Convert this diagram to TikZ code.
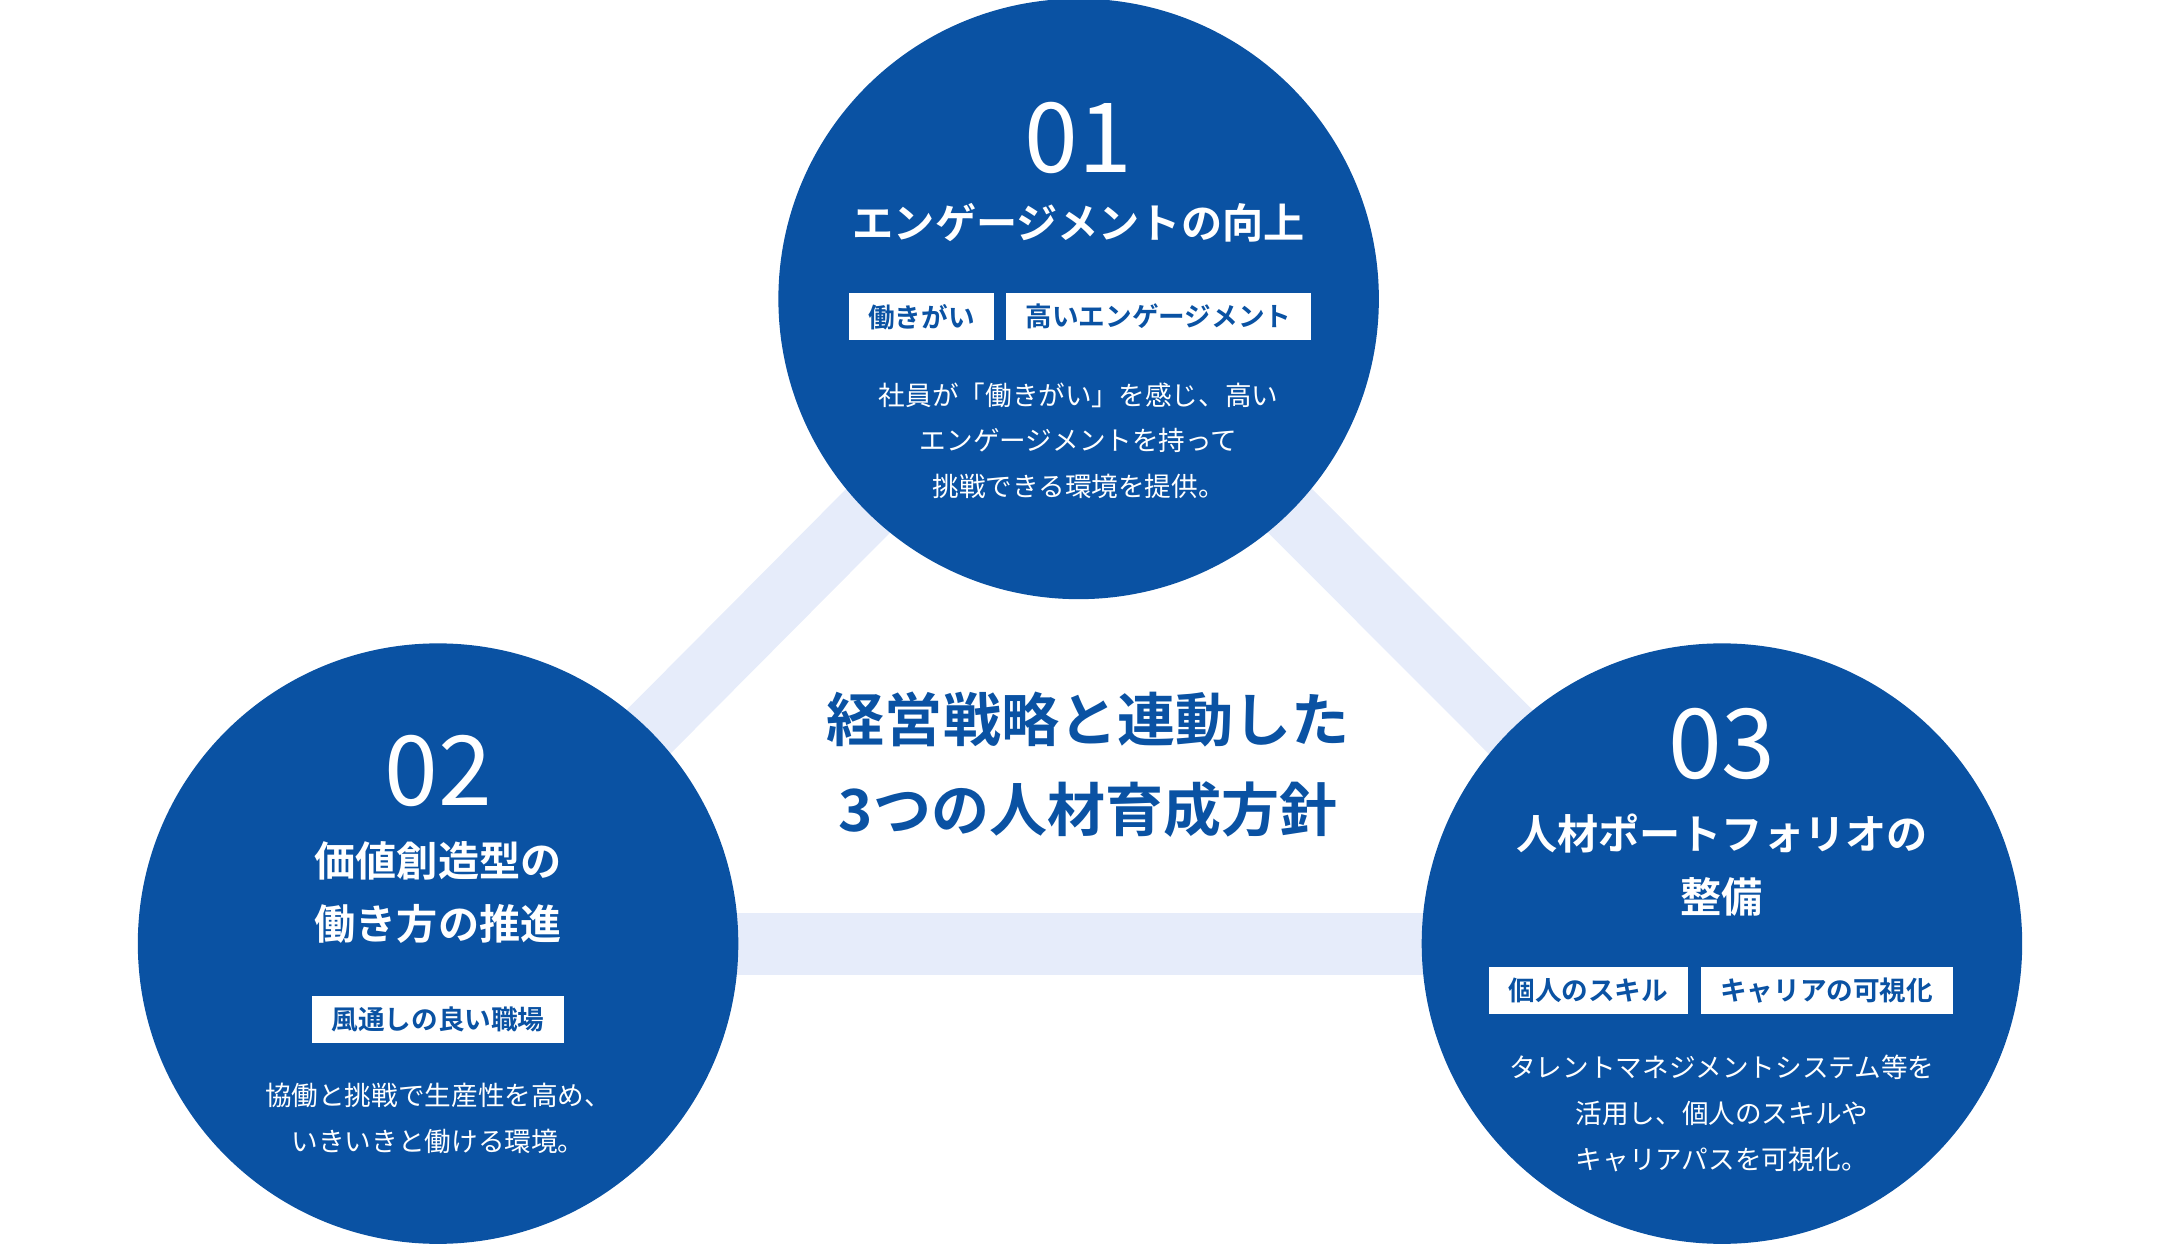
\documentclass[tikz,border=0pt]{standalone}
\usepackage{fontspec}
\setmainfont{Noto Sans CJK JP}[BoldFont={Noto Sans CJK JP Bold}]
\definecolor{polblue}{RGB}{10,82,163}
\definecolor{polband}{RGB}{230,236,250}

\begin{document}
\begin{tikzpicture}[x=0.02cm,y=0.02cm,
    pillar/.style={circle, fill=polblue, minimum size=8.72cm, inner sep=0pt},
    band/.style={line width=0.9cm, polband},
    num/.style={text=white, font=\fontsize{40}{40}\selectfont},
    title/.style={text=white, font=\bfseries\fontsize{17}{26}\selectfont, align=center},
    tag/.style={fill=white, text=polblue, font=\bfseries\fontsize{11}{11}\selectfont, minimum height=0.68cm, inner xsep=8pt},
    body/.style={text=white, font=\fontsize{11}{19}\selectfont, align=center}]
    \useasboundingbox (0,0) rectangle (1568,903);

    % positions of the pillars
    \coordinate (c1) at (783,686);
    \coordinate (c2) at (318,218);
    \coordinate (c3) at (1250,218);

    % connecting bands
    \draw[band] (c1) -- (c2);
    \draw[band] (c1) -- (c3);
    \draw[band] (c2) -- (c3);

    % three pillars
    \node[pillar] (p1) at (c1) {};
    \node[pillar] (p2) at (c2) {};
    \node[pillar] (p3) at (c3) {};

    % center text
    \node[text=polblue, font=\bfseries\fontsize{24}{37}\selectfont, align=center] (core) at (790,348)
        {経営戦略と連動した\\3つの人材育成方針};

    % pillar 01
    \node[num] (n1) at (783,803) {01};
    \node[title] (t1) at (783,741) {エンゲージメントの向上};
    \node[tag] (g1a) at (669,673) {働きがい};
    \node[tag] (g1b) at (841,673) {高いエンゲージメント};
    \node[body] (b1) at (783,583) {社員が「働きがい」を感じ、高い\\エンゲージメントを持って\\挑戦できる環境を提供。};

    % pillar 02
    \node[num] (n2) at (318,343) {02};
    \node[title] (t2) at (318,255) {価値創造型の\\働き方の推進};
    \node[tag] (g2) at (318,163) {風通しの良い職場};
    \node[body] (b2) at (318,91) {協働と挑戦で生産性を高め、\\いきいきと働ける環境。};

    % pillar 03
    \node[num] (n3) at (1250,363) {03};
    \node[title] (t3) at (1250,275) {人材ポートフォリオの\\整備};
    \node[tag] (g3a) at (1153,184) {個人のスキル};
    \node[tag] (g3b) at (1326,184) {キャリアの可視化};
    \node[body] (b3) at (1250,95) {タレントマネジメントシステム等を\\活用し、個人のスキルや\\キャリアパスを可視化。};
\end{tikzpicture}
\end{document}
